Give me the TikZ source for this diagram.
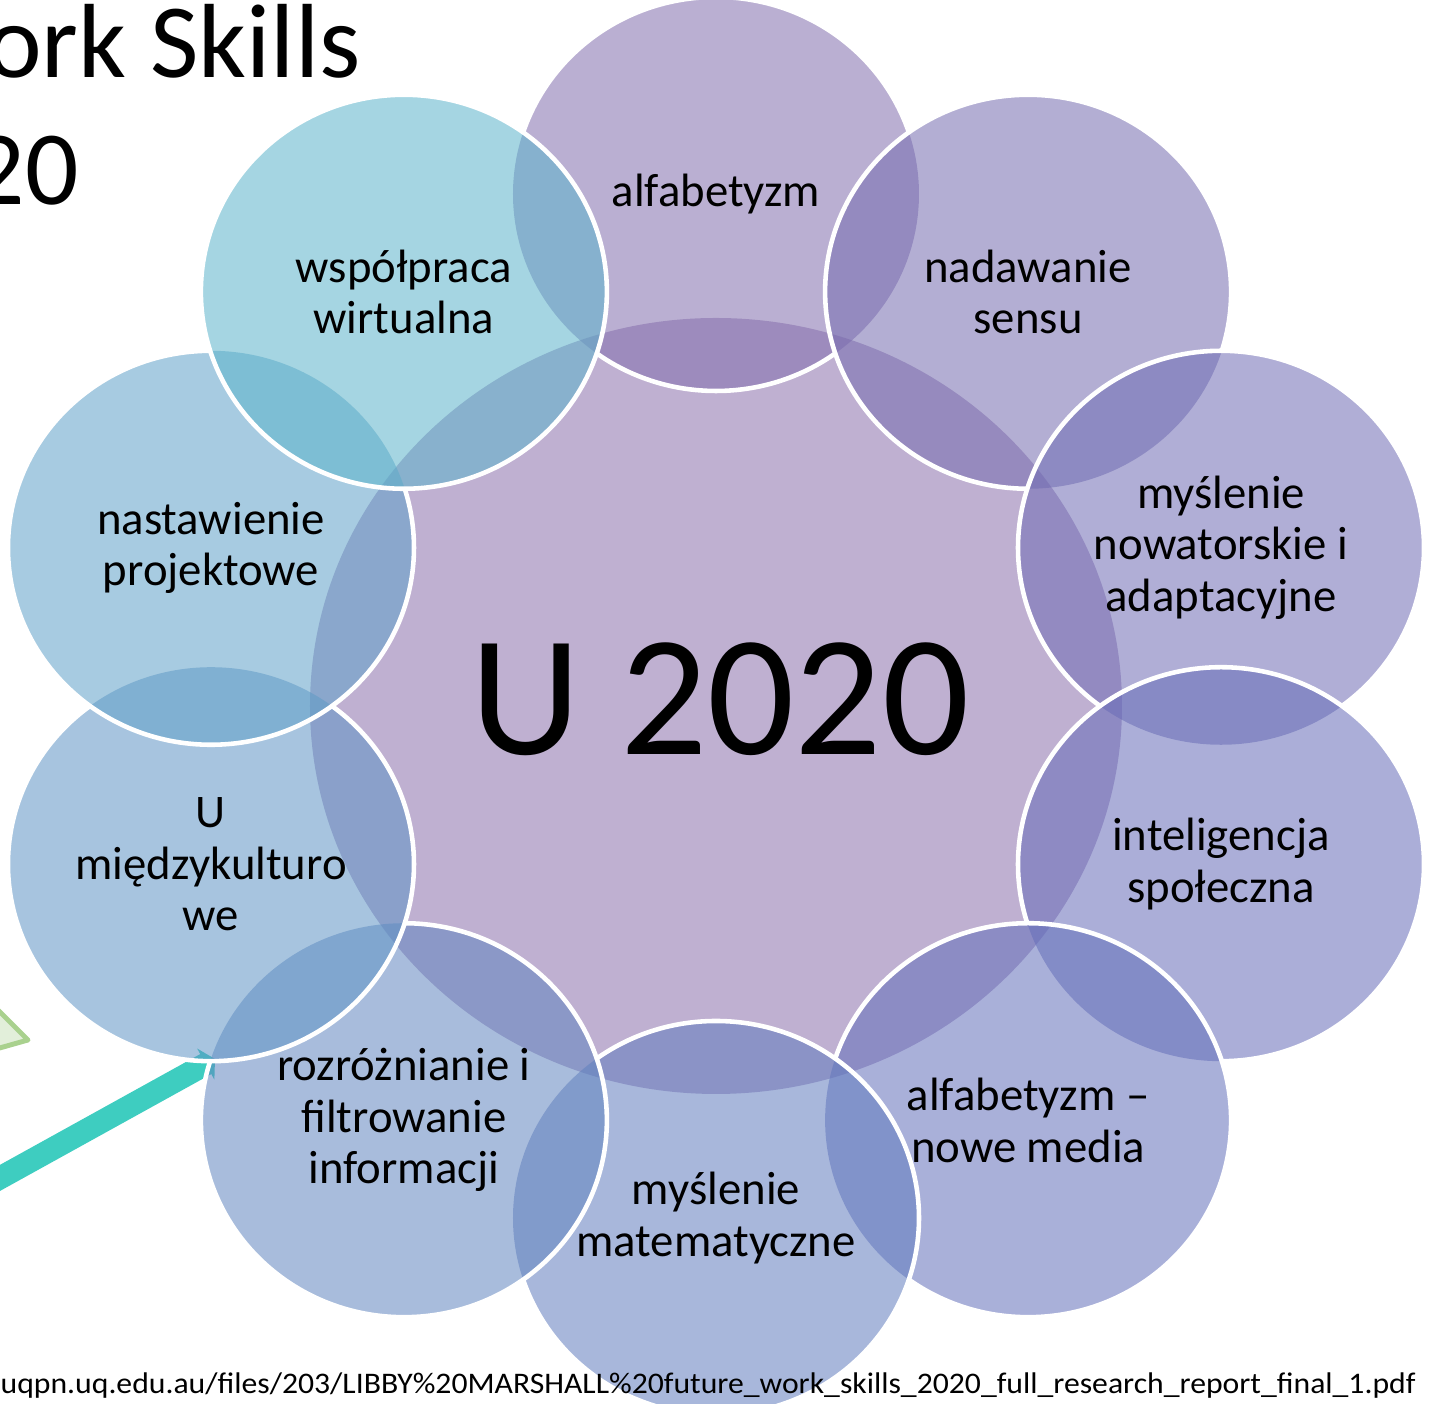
\documentclass[tikz,border=0pt]{standalone}
\usepackage{fontspec}
\setmainfont{Carlito}
\usetikzlibrary{arrows.meta}
\definecolor{hub}{RGB}{191,176,209}
\definecolor{c1}{RGB}{130,110,173}
\definecolor{c2}{RGB}{117,108,175}
\definecolor{c3}{RGB}{111,108,180}
\definecolor{c4}{RGB}{102,108,184}
\definecolor{c5}{RGB}{99,111,186}
\definecolor{c6}{RGB}{97,124,190}
\definecolor{c7}{RGB}{97,133,191}
\definecolor{c8}{RGB}{95,148,197}
\definecolor{c9}{RGB}{95,160,200}
\definecolor{c10}{RGB}{91,179,202}
\definecolor{leaf}{RGB}{226,239,218}
\definecolor{leafline}{RGB}{169,209,142}
\definecolor{stem}{RGB}{62,205,192}
\tikzset{
  every picture/.style={line cap=round, line join=round},
  % Kreise
  oval/.style={x radius=2.03, y radius=1.97},
  disc/.style={fill=#1, fill opacity=0.55},
  rim/.style={draw=white, line width=1.3pt},
  % Schrift
  skill/.style={align=center, text=black, font=\fontsize{13.3}{14.65}\selectfont},
  big/.style={text=black, font=\fontsize{49}{58}\selectfont},
  title/.style={text=black, font=\fontsize{30}{36}\selectfont},
  src/.style={text=black, font=\fontsize{8.5}{10}\selectfont},
}

\begin{document}
\begin{tikzpicture}
  \useasboundingbox (-7.16,-6.98) rectangle (7.15,7.06);
  \clip (-7.16,-6.98) rectangle (7.15,7.06);
  % Titelreste links oben
  \node[title, anchor=base east] (ttl1) at (-3.43,6.28) {ork Skills};
  \node[title, anchor=base east] (ttl2) at (-6.25,5.01) {20};
  % Dreieck und Pfeil am linken Rand
  \coordinate (g0) at (-6.88,-3.34);
  \coordinate (g1) at (-7.80,-2.42);
  \coordinate (g2) at (-7.80,-3.60);
  \filldraw[fill=leaf, draw=leafline, line width=1.4pt] (g0) -- (g1) -- (g2) -- cycle;
  \coordinate (a0) at (-7.27,-4.78);
  \coordinate (a1) at (-5.01,-3.53);
  \draw[stem, line width=6.5pt, line cap=butt, -{Triangle[length=3pt,width=10pt]}] (a0) -- (a1);
  % Mitte
  \fill[hub] (0,0) ellipse [x radius=4.06, y radius=3.88];
  \node[big, anchor=base] (hubtxt) at (0.04,-0.49) {U 2020};
  % zehn Kreise im Ring
  \foreach \i/\ang in {1/90,2/54,3/18,4/-18,5/-54,6/-90,7/-126,8/-162,9/162,10/126}
    \coordinate (s\i) at (\ang:5.31 and 5.12);
  \foreach \i in {1,...,10}
    \fill[disc=c\i] (s\i) ellipse [oval];
  % weisse Raender, vom jeweils spaeteren Kreis verdeckt
  \foreach \i/\j/\k in {1/2/10,2/3/3,3/4/4,4/5/5,5/6/6,6/7/7,7/8/8,8/9/9,9/10/10} {
    \begin{scope}[even odd rule]
      \clip (-8,-8) rectangle (8,8) (s\j) ellipse [oval];
      \clip (-8,-8) rectangle (8,8) (s\k) ellipse [oval];
      \draw[rim] (s\i) ellipse [oval];
    \end{scope}
  }
  \draw[rim] (s10) ellipse [oval];
  % Beschriftung
  \foreach \i/\txt in {1/alfabetyzm, 2/nadawanie\\sensu,
      3/myślenie\\nowatorskie i\\adaptacyjne, 4/inteligencja\\społeczna,
      5/alfabetyzm –\\nowe media, 6/myślenie\\matematyczne,
      7/rozróżnianie i\\filtrowanie\\informacji, 8/U\\międzykulturo\\we,
      9/nastawienie\\projektowe, 10/współpraca\\wirtualna}
    \node[skill] (t\i) at (s\i) {\txt};
  % Quelle
  \node[src, anchor=base west, inner sep=0pt] (url) at (-7.16,-6.88)
    {\resizebox{14.15cm}{\height}{uqpn.uq.edu.au/files/203/LIBBY\%20MARSHALL\%20future\_work\_skills\_2020\_full\_research\_report\_final\_1.pdf}};
\end{tikzpicture}
\end{document}
